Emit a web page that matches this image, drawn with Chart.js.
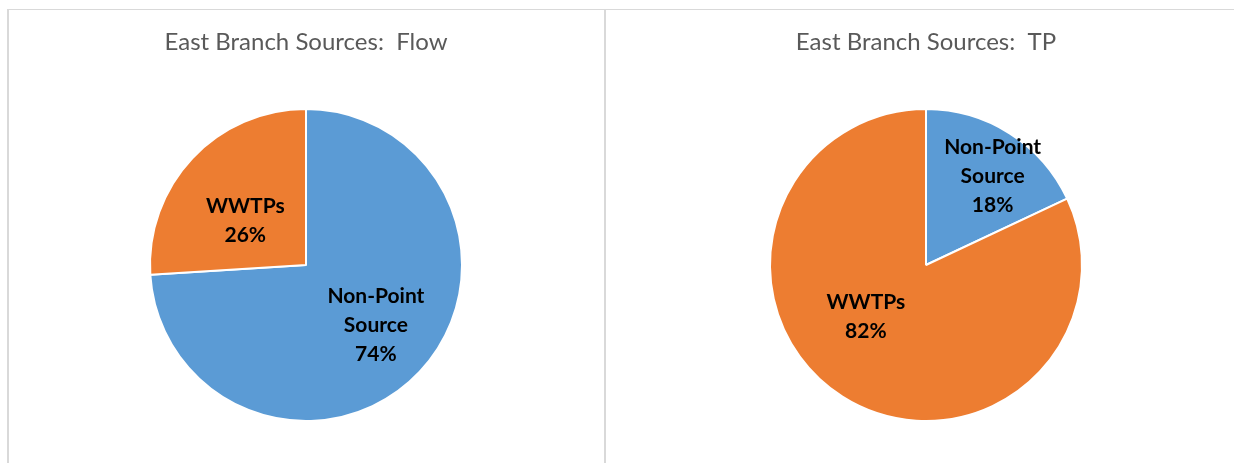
<!DOCTYPE html>
<html>
<head>
<meta charset="utf-8">
<script src="https://cdn.jsdelivr.net/npm/chart.js@4/dist/chart.umd.min.js"></script>
<style>
  html, body { margin: 0; padding: 0; background: #fff; overflow: hidden; }
  body { width: 1234px; height: 463px; position: relative; }
  .line { position: absolute; background: #d9d9d9; }
  .box { position: absolute; top: 10px; height: 453px; }
</style>
</head>
<body>
<div class="line" style="left:7px; top:9px; width:1227px; height:1px;"></div>
<div class="line" style="left:7px; top:9px; width:2px; height:454px;"></div>
<div class="line" style="left:604px; top:9px; width:2px; height:454px;"></div>

<div class="box" style="left:9px; width:594px;"><canvas id="flowChart"></canvas></div>
<div class="box" style="left:607px; width:638px;"><canvas id="tpChart"></canvas></div>

<script>
// data
const categories = ['Non-Point Source', 'WWTPs'];
const labelLines = [['Non-Point', 'Source'], ['WWTPs']];
const flowShares = [74, 26];
const tpShares = [18, 82];
const flowTitle = 'East Branch Sources:  Flow';
const tpTitle = 'East Branch Sources:  TP';

const colours = ['#5B9BD5', '#ED7D31'];

// draws "name / pct%" inside each slice
const sliceLabels = {
    id: 'sliceLabels',
    afterDatasetsDraw(chart, args, opts) {
        const ctx = chart.ctx;
        const meta = chart.getDatasetMeta(0);
        const values = chart.data.datasets[0].data;
        const total = values.reduce((a, b) => a + b, 0);
        ctx.save();
        ctx.fillStyle = '#000';
        ctx.font = 'bold 21px Lato';
        ctx.textAlign = 'center';
        ctx.textBaseline = 'middle';
        meta.data.forEach((arc, i) => {
            const p = opts.place[i];
            const mid = (arc.startAngle + arc.endAngle) / 2 + p.turn * Math.PI / 180;
            const r = arc.outerRadius * p.frac;
            const x = arc.x + Math.cos(mid) * r;
            const y = arc.y + Math.sin(mid) * r;
            const lines = labelLines[i].concat([Math.round(values[i] / total * 100) + '%']);
            const lh = 29;
            lines.forEach((t, k) => {
                ctx.fillText(t, x, y + (k - (lines.length - 1) / 2) * lh);
            });
        });
        ctx.restore();
    }
};

function makePie(id, title, values, place) {
    return new Chart(document.getElementById(id), {
        type: 'pie',
        data: {
            labels: categories,
            datasets: [{
                data: values,
                backgroundColor: colours,
                borderColor: '#ffffff',
                borderWidth: 2
            }]
        },
        options: {
            responsive: false,
            animation: false,
            layout: { padding: { top: 0, bottom: 41, left: 0, right: 0 } },
            plugins: {
                legend: { display: false },
                tooltip: { enabled: false },
                title: {
                    display: true,
                    text: title,
                    color: '#595959',
                    font: { family: 'Lato', size: 24, weight: 'normal', lineHeight: 1.2 },
                    padding: { top: 17.6, bottom: 51.6 }
                },
                sliceLabels: { place: place }
            }
        },
        plugins: [sliceLabels]
    });
}

document.getElementById('flowChart').width = 594;
document.getElementById('flowChart').height = 453;
document.getElementById('tpChart').width = 638;
document.getElementById('tpChart').height = 453;

makePie('flowChart', flowTitle, flowShares, [{ frac: 0.59, turn: -2.6 }, { frac: 0.48, turn: -7.4 }]);
makePie('tpChart', tpTitle, tpShares, [{ frac: 0.71, turn: 4.6 }, { frac: 0.51, turn: 16.7 }]);
</script>
</body>
</html>
